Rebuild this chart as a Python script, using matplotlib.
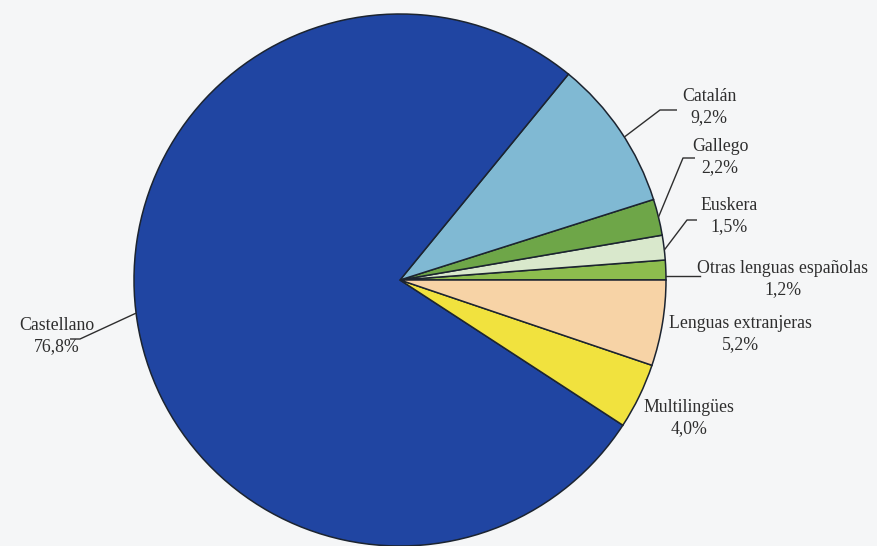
import numpy as np
import matplotlib
matplotlib.use("Agg")
import matplotlib.pyplot as plt

# datos de la figura (porcentajes)
labels = ["Otras lenguas españolas", "Euskera", "Gallego", "Catalán",
          "Castellano", "Multilingües", "Lenguas extranjeras"]
values = [1.2, 1.5, 2.2, 9.2, 76.8, 4.0, 5.2]
pct_text = ["1,2%", "1,5%", "2,2%", "9,2%", "76,8%", "4,0%", "5,2%"]
colors = ["#8dbd4e", "#d9e8cc", "#6ea648", "#80b9d3",
          "#2045a2", "#f1e23e", "#f7d3a6"]

W, H = 878, 546
fig = plt.figure(figsize=(W / 100, H / 100), dpi=100, facecolor="#f5f6f7")
ax = fig.add_axes([0, 0, 1, 1])
ax.set_facecolor("#f5f6f7")

cx, cy, r = 400, H - 280, 266
wedges, _ = ax.pie(values, colors=colors, startangle=0, counterclock=True,
                   center=(cx, cy), radius=r, frame=True,
                   wedgeprops=dict(edgecolor="#1c2430", linewidth=1.1))
ax.set_xlim(0, W)
ax.set_ylim(0, H)
ax.set_aspect("equal")
ax.axis("off")

# posicion de las etiquetas (pixeles de la imagen, y hacia abajo)
# indice -> (texto x, texto y, codo x, codo y, fin x, punto dentro de la cuña)
layout = {
    3: (709, 107, 660, 110, 677, 0.45),
    2: (720, 157, 683, 158, 695, 0.5),
    1: (729, 216, 687, 220, 697, 0.4),
    0: (783, 279, None, None, 700, 0.2),
    6: (740, 334, None, None, None, None),
    5: (689, 418, None, None, None, None),
    4: (57, 336, 80, 339, 70, 0.494),
}

font = dict(family=["Liberation Serif", "DejaVu Serif"], size=12.8,
            color="#2e2e2e")

for i, (tx, ty, ex, ey, endx, frac) in layout.items():
    ax.text(tx, H - ty, labels[i] + "\n" + pct_text[i], ha="center",
            va="center", linespacing=1.3, **font)
    if frac is None:
        continue
    w = wedges[i]
    ang = np.deg2rad(w.theta1 + frac * (w.theta2 - w.theta1))
    px = cx + r * np.cos(ang)
    py = cy + r * np.sin(ang)
    if ex is None:
        ax.plot([px, endx], [py, py], color="#2e2e2e", lw=1.0)
    else:
        ax.plot([px, ex, endx], [py, H - ey, H - ey], color="#2e2e2e",
                lw=1.0, solid_capstyle="butt")

fig.savefig("out.png", dpi=100, facecolor=fig.get_facecolor())
